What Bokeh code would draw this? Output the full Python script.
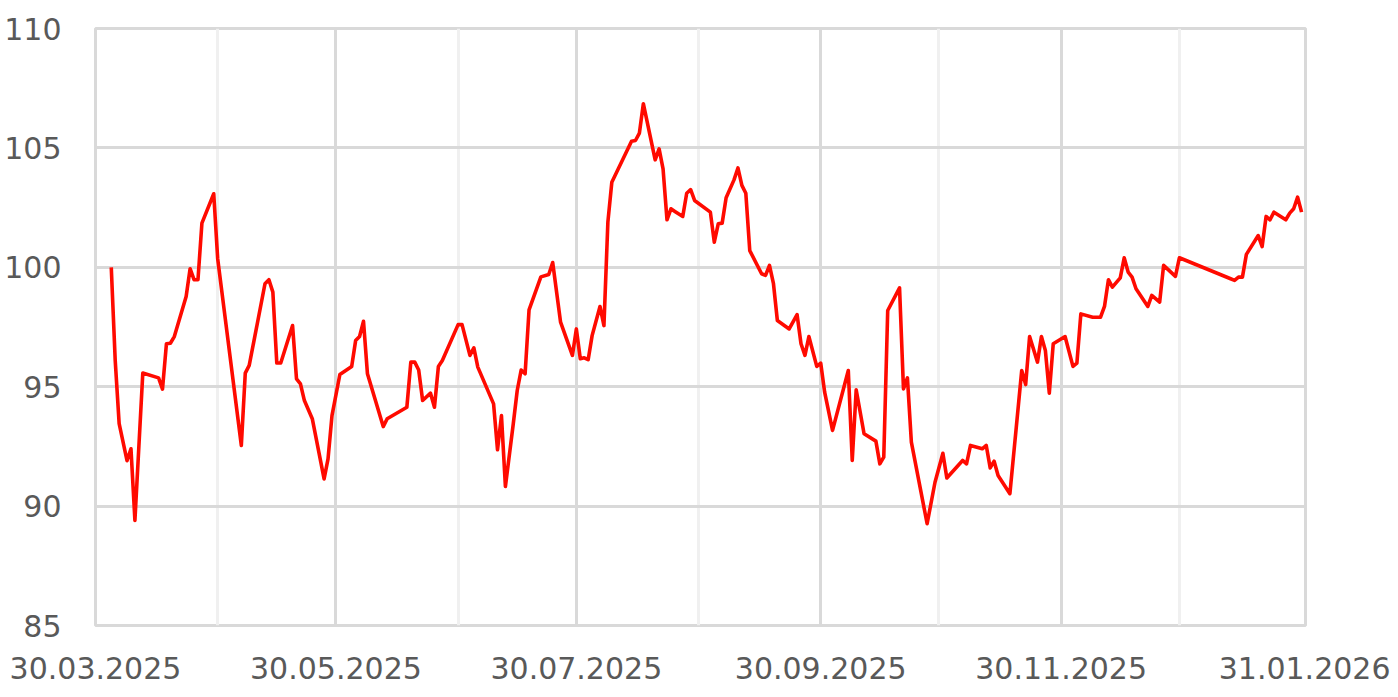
import pandas as pd
from bokeh.plotting import figure
from bokeh.models import Range1d, FixedTicker, DatetimeTickFormatter, ColumnDataSource
from bokeh.embed import file_html
from bokeh.resources import INLINE

dates = [
    "2025-04-03", "2025-04-04", "2025-04-05", "2025-04-07", "2025-04-08", "2025-04-09", "2025-04-11",
    "2025-04-15", "2025-04-16", "2025-04-17", "2025-04-18", "2025-04-19", "2025-04-22", "2025-04-23",
    "2025-04-24", "2025-04-25", "2025-04-26", "2025-04-29", "2025-04-30", "2025-05-06", "2025-05-07",
    "2025-05-08", "2025-05-12", "2025-05-13", "2025-05-14", "2025-05-15", "2025-05-16", "2025-05-19",
    "2025-05-20", "2025-05-21", "2025-05-22", "2025-05-24", "2025-05-27", "2025-05-28", "2025-05-29",
    "2025-05-31", "2025-06-03", "2025-06-04", "2025-06-05", "2025-06-06", "2025-06-07", "2025-06-11",
    "2025-06-12", "2025-06-17", "2025-06-18", "2025-06-19", "2025-06-20", "2025-06-21", "2025-06-23",
    "2025-06-24", "2025-06-25", "2025-06-26", "2025-06-30", "2025-07-01", "2025-07-03", "2025-07-04",
    "2025-07-05", "2025-07-09", "2025-07-10", "2025-07-11", "2025-07-12", "2025-07-14", "2025-07-15",
    "2025-07-16", "2025-07-17", "2025-07-18", "2025-07-21", "2025-07-23", "2025-07-24", "2025-07-26",
    "2025-07-29", "2025-07-30", "2025-07-31", "2025-08-01", "2025-08-02", "2025-08-03", "2025-08-05",
    "2025-08-06", "2025-08-07", "2025-08-08", "2025-08-13", "2025-08-14", "2025-08-15", "2025-08-16",
    "2025-08-19", "2025-08-20", "2025-08-21", "2025-08-22", "2025-08-23", "2025-08-24", "2025-08-26",
    "2025-08-27", "2025-08-28", "2025-08-29", "2025-09-02", "2025-09-03", "2025-09-04", "2025-09-05",
    "2025-09-06", "2025-09-08", "2025-09-09", "2025-09-10", "2025-09-11", "2025-09-12", "2025-09-15",
    "2025-09-16", "2025-09-17", "2025-09-18", "2025-09-19", "2025-09-22", "2025-09-24", "2025-09-25",
    "2025-09-26", "2025-09-27", "2025-09-29", "2025-09-30", "2025-10-01", "2025-10-03", "2025-10-07",
    "2025-10-08", "2025-10-09", "2025-10-11", "2025-10-14", "2025-10-15", "2025-10-16", "2025-10-17",
    "2025-10-20", "2025-10-21", "2025-10-22", "2025-10-23", "2025-10-27", "2025-10-29", "2025-10-31",
    "2025-11-01", "2025-11-05", "2025-11-06", "2025-11-07", "2025-11-10", "2025-11-11", "2025-11-12",
    "2025-11-13", "2025-11-14", "2025-11-17", "2025-11-20", "2025-11-21", "2025-11-22", "2025-11-24",
    "2025-11-25", "2025-11-26", "2025-11-27", "2025-11-28", "2025-12-01", "2025-12-03", "2025-12-04",
    "2025-12-05", "2025-12-08", "2025-12-10", "2025-12-11", "2025-12-12", "2025-12-13", "2025-12-15",
    "2025-12-16", "2025-12-17", "2025-12-18", "2025-12-19", "2025-12-22", "2025-12-23", "2025-12-25",
    "2025-12-26", "2025-12-29", "2025-12-30", "2026-01-12", "2026-01-13", "2026-01-14", "2026-01-15",
    "2026-01-16", "2026-01-19", "2026-01-20", "2026-01-21", "2026-01-22", "2026-01-23", "2026-01-26",
    "2026-01-27", "2026-01-28", "2026-01-29", "2026-01-30",
]

values = [
    100.0, 96.1, 93.45, 91.9, 92.4, 89.4, 95.57,
    95.37, 94.9, 96.8, 96.82, 97.1, 98.78, 99.94,
    99.48, 99.48, 101.85, 103.08, 100.36, 92.54, 95.57,
    95.89, 99.31, 99.48, 98.96, 95.99, 95.99, 97.56,
    95.33, 95.12, 94.42, 93.66, 91.14, 91.98, 93.79,
    95.51, 95.85, 96.93, 97.1, 97.74, 95.54, 93.33,
    93.66, 94.14, 96.03, 96.03, 95.7, 94.42, 94.73,
    94.14, 95.85, 96.1, 97.6, 97.6, 96.31, 96.63,
    95.82, 94.28, 92.36, 93.79, 90.82, 93.45, 94.84,
    95.7, 95.54, 98.22, 99.6, 99.7, 100.2, 97.7,
    96.31, 97.42, 96.17, 96.21, 96.13, 97.14, 98.36,
    97.56, 101.89, 103.56, 105.28, 105.31, 105.62, 106.85,
    104.5, 104.96, 104.12, 101.99, 102.45, 102.34, 102.13,
    103.1, 103.25, 102.8, 102.31, 101.05, 101.82, 101.85,
    102.91, 103.66, 104.16, 103.43, 103.1, 100.7, 99.73,
    99.66, 100.08, 99.33, 97.77, 97.42, 98.02, 96.8,
    96.31, 97.1, 95.85, 95.99, 94.77, 93.17, 95.68,
    91.91, 94.87, 93.03, 92.72, 91.77, 92.05, 98.19,
    99.14, 94.91, 95.37, 92.68, 89.26, 91.0, 92.21,
    91.18, 91.91, 91.77, 92.54, 92.4, 92.54, 91.6,
    91.88, 91.28, 90.52, 95.68, 95.09, 97.1, 96.03,
    97.1, 96.52, 94.73, 96.8, 97.1, 95.85, 95.99,
    98.05, 97.91, 97.91, 98.36, 99.48, 99.17, 99.56,
    100.4, 99.8, 99.59, 99.1, 98.36, 98.82, 98.54,
    100.08, 99.62, 100.4, 99.52, 99.45, 99.59, 99.59,
    100.54, 101.33, 100.87, 102.13, 101.99, 102.31, 101.99,
    102.27, 102.45, 102.94, 102.31,
]

x_start = "2025-03-30"
x_end = "2026-01-31"
label_dates = ["2025-03-30", "2025-05-30", "2025-07-30", "2025-09-30", "2025-11-30", "2026-01-31"]
minor_dates = ["2025-04-30", "2025-06-30", "2025-08-30", "2025-10-30", "2025-12-30"]
y_ticks = [85, 90, 95, 100, 105, 110]


def ms(d):
    return pd.Timestamp(d).value // 10**6


src = ColumnDataSource(dict(x=pd.to_datetime(dates), y=values))

p = figure(
    width=1390, height=689,
    x_axis_type="datetime",
    x_range=Range1d(ms(x_start), ms(x_end)),
    y_range=Range1d(85, 110),
    output_backend="svg", toolbar_location=None,
    min_border_left=95, min_border_right=85, min_border_top=28, min_border_bottom=64,
)
p.background_fill_color = "white"
p.border_fill_color = "white"
p.outline_line_color = "#d9d9d9"
p.outline_line_width = 3

p.line("x", "y", source=src, line_color="#ff0a00", line_width=3.6, line_join="round")

xt = FixedTicker(ticks=[ms(d) for d in label_dates], minor_ticks=[ms(d) for d in minor_dates])
p.xaxis.ticker = xt
p.xaxis.formatter = DatetimeTickFormatter(
    days="%d.%m.%Y", months="%d.%m.%Y", years="%d.%m.%Y", hours="%d.%m.%Y",
    minutes="%d.%m.%Y", seconds="%d.%m.%Y", milliseconds="%d.%m.%Y", microseconds="%d.%m.%Y",
    hourmin="%d.%m.%Y", minsec="%d.%m.%Y",
)
p.yaxis.ticker = FixedTicker(ticks=y_ticks)

for ax in (p.xaxis[0], p.yaxis[0]):
    ax.axis_line_color = None
    ax.major_tick_line_color = None
    ax.minor_tick_line_color = None
    ax.major_label_text_font = "DejaVu Sans"
    ax.major_label_text_font_size = "30px"
    ax.major_label_text_color = "#595959"

p.xaxis.major_label_standoff = 25
p.yaxis.major_label_standoff = 28

p.xgrid.grid_line_color = "#d9d9d9"
p.xgrid.grid_line_width = 3
p.xgrid.minor_grid_line_color = "#f0f0f0"
p.xgrid.minor_grid_line_width = 3
p.ygrid.grid_line_color = "#d9d9d9"
p.ygrid.grid_line_width = 3

open("out.html", "w").write(file_html(p, INLINE))
